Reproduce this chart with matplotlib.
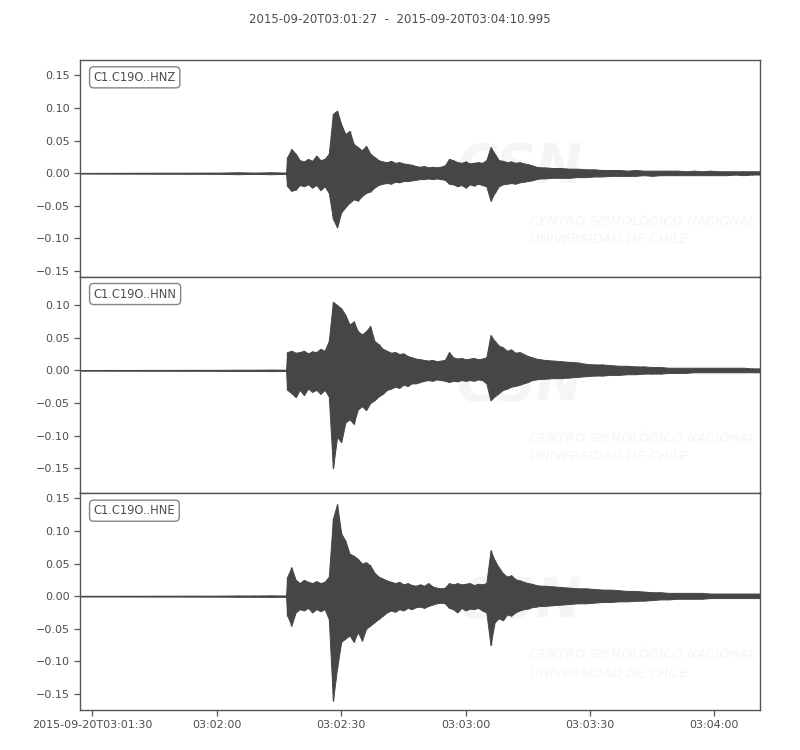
import numpy as np
import matplotlib
matplotlib.use("Agg")
import matplotlib.pyplot as plt
from matplotlib.ticker import MultipleLocator

# ---------------- data ----------------
title = "2015-09-20T03:01:27  -  2015-09-20T03:04:10.995"
channels = ["C1.C19O..HNZ", "C1.C19O..HNN", "C1.C19O..HNE"]

# seconds after 2015-09-20T03:01:27
t_pre = [0, 34, 38, 42, 46, 49.7]
t_sec = list(range(50, 112))          # 1 s envelope samples
t_tail = list(range(112, 166, 2))     # 2 s envelope samples
duration = 163.995

# HNZ envelope
hnz_pre_up = [0.0005, 0.001, 0.0015, 0.001, 0.0015, 0.001]
hnz_pre_lo = [-0.0005, -0.001, -0.0015, -0.001, -0.0015, -0.001]
hnz_up = [0.025, 0.037, 0.030, 0.020, 0.018, 0.022, 0.019, 0.027, 0.020,
          0.022, 0.030, 0.091, 0.096, 0.075, 0.060, 0.065, 0.045, 0.040, 0.035,
          0.042, 0.030, 0.025, 0.020, 0.018, 0.017, 0.019, 0.016, 0.017, 0.015,
          0.014, 0.013, 0.011, 0.010, 0.011, 0.009, 0.010, 0.009, 0.010, 0.012,
          0.022, 0.020, 0.017, 0.016, 0.018, 0.015, 0.016, 0.017, 0.016, 0.020,
          0.040, 0.030, 0.020, 0.019, 0.017, 0.018, 0.016, 0.017, 0.015, 0.014,
          0.012, 0.010, 0.009]
hnz_lo = [-0.020, -0.027, -0.025, -0.018, -0.020, -0.017, -0.022, -0.018, -0.026,
          -0.020, -0.030, -0.070, -0.083, -0.060, -0.052, -0.045, -0.040, -0.042, -0.035,
          -0.030, -0.028, -0.022, -0.018, -0.016, -0.015, -0.016, -0.013, -0.014, -0.012,
          -0.012, -0.011, -0.010, -0.009, -0.009, -0.008, -0.009, -0.008, -0.009, -0.010,
          -0.016, -0.017, -0.020, -0.018, -0.022, -0.017, -0.019, -0.016, -0.018, -0.020,
          -0.042, -0.030, -0.020, -0.017, -0.016, -0.015, -0.016, -0.014, -0.013, -0.012,
          -0.011, -0.009, -0.008]
hnz_tail_up = [0.009, 0.008, 0.008, 0.007, 0.007, 0.006, 0.006, 0.005, 0.005,
               0.005, 0.004, 0.005, 0.004, 0.004, 0.004, 0.004, 0.004, 0.003,
               0.004, 0.003, 0.004, 0.003, 0.003, 0.003, 0.003, 0.003, 0.003]
hnz_tail_lo = [-0.008, -0.007, -0.007, -0.007, -0.006, -0.006, -0.005, -0.005, -0.004,
               -0.004, -0.004, -0.004, -0.003, -0.004, -0.003, -0.003, -0.003, -0.003,
               -0.003, -0.003, -0.003, -0.003, -0.003, -0.002, -0.003, -0.002, -0.002]

# HNN envelope
hnn_pre_up = [0.0005, 0.0008, 0.001, 0.001, 0.0012, 0.001]
hnn_pre_lo = [-0.0005, -0.0008, -0.001, -0.001, -0.0012, -0.001]
hnn_up = [0.028, 0.030, 0.027, 0.028, 0.030, 0.026, 0.029, 0.028, 0.033,
          0.030, 0.045, 0.105, 0.100, 0.095, 0.085, 0.070, 0.075, 0.060, 0.055,
          0.060, 0.068, 0.045, 0.040, 0.033, 0.030, 0.027, 0.028, 0.025, 0.026,
          0.022, 0.020, 0.018, 0.017, 0.016, 0.015, 0.016, 0.014, 0.015, 0.016,
          0.028, 0.020, 0.018, 0.019, 0.017, 0.018, 0.019, 0.017, 0.018, 0.020,
          0.054, 0.045, 0.038, 0.035, 0.030, 0.032, 0.027, 0.028, 0.025, 0.022,
          0.020, 0.018, 0.017]
hnn_lo = [-0.030, -0.035, -0.041, -0.030, -0.038, -0.028, -0.033, -0.030, -0.036,
          -0.030, -0.040, -0.150, -0.102, -0.110, -0.080, -0.075, -0.082, -0.060, -0.055,
          -0.061, -0.050, -0.046, -0.040, -0.036, -0.030, -0.028, -0.025, -0.027, -0.022,
          -0.024, -0.020, -0.020, -0.018, -0.016, -0.015, -0.016, -0.014, -0.015, -0.016,
          -0.018, -0.016, -0.017, -0.015, -0.016, -0.015, -0.016, -0.014, -0.015, -0.020,
          -0.046, -0.040, -0.035, -0.030, -0.028, -0.025, -0.024, -0.022, -0.020, -0.018,
          -0.015, -0.014, -0.013]
hnn_tail_up = [0.016, 0.015, 0.014, 0.013, 0.012, 0.010, 0.009, 0.009, 0.008,
               0.007, 0.007, 0.006, 0.006, 0.005, 0.005, 0.004, 0.004, 0.004,
               0.004, 0.004, 0.004, 0.004, 0.004, 0.004, 0.004, 0.003, 0.003]
hnn_tail_lo = [-0.013, -0.012, -0.012, -0.011, -0.010, -0.009, -0.008, -0.008, -0.007,
               -0.007, -0.006, -0.006, -0.005, -0.005, -0.005, -0.004, -0.004, -0.004,
               -0.003, -0.003, -0.003, -0.003, -0.003, -0.003, -0.003, -0.003, -0.003]

# HNE envelope
hne_pre_up = [0.0005, 0.0008, 0.001, 0.001, 0.0012, 0.001]
hne_pre_lo = [-0.0005, -0.0008, -0.001, -0.001, -0.0012, -0.001]
hne_up = [0.030, 0.044, 0.025, 0.020, 0.025, 0.022, 0.020, 0.023, 0.020,
          0.022, 0.030, 0.119, 0.141, 0.096, 0.085, 0.065, 0.062, 0.057, 0.050,
          0.052, 0.047, 0.036, 0.030, 0.027, 0.024, 0.022, 0.020, 0.022, 0.018,
          0.020, 0.017, 0.016, 0.018, 0.016, 0.020, 0.015, 0.013, 0.012, 0.013,
          0.020, 0.018, 0.020, 0.018, 0.019, 0.020, 0.017, 0.019, 0.018, 0.020,
          0.070, 0.055, 0.044, 0.035, 0.030, 0.032, 0.026, 0.024, 0.022, 0.020,
          0.019, 0.017, 0.016]
hne_lo = [-0.030, -0.045, -0.025, -0.020, -0.022, -0.018, -0.025, -0.020, -0.023,
          -0.020, -0.035, -0.160, -0.110, -0.070, -0.065, -0.060, -0.070, -0.055, -0.068,
          -0.050, -0.045, -0.040, -0.035, -0.030, -0.025, -0.022, -0.024, -0.020, -0.022,
          -0.018, -0.020, -0.017, -0.016, -0.018, -0.015, -0.013, -0.011, -0.010, -0.011,
          -0.018, -0.020, -0.025, -0.018, -0.022, -0.019, -0.020, -0.018, -0.022, -0.025,
          -0.075, -0.040, -0.034, -0.037, -0.028, -0.030, -0.025, -0.022, -0.020, -0.019,
          -0.017, -0.016, -0.015]
hne_tail_up = [0.016, 0.015, 0.014, 0.013, 0.012, 0.012, 0.011, 0.010, 0.010,
               0.009, 0.008, 0.008, 0.007, 0.006, 0.006, 0.005, 0.005, 0.005,
               0.005, 0.005, 0.004, 0.004, 0.004, 0.004, 0.004, 0.004, 0.004]
hne_tail_lo = [-0.015, -0.014, -0.013, -0.012, -0.011, -0.011, -0.010, -0.009, -0.009,
               -0.008, -0.008, -0.007, -0.007, -0.006, -0.005, -0.005, -0.004, -0.004,
               -0.004, -0.004, -0.003, -0.003, -0.003, -0.003, -0.003, -0.003, -0.003]

ylims = [(-0.1585, 0.1735), (-0.1885, 0.1435), (-0.1745, 0.1575)]

xtick_pos = [3, 33, 63, 93, 123, 153]
xtick_labels = ["2015-09-20T03:01:30", "03:02:00", "03:02:30",
                "03:03:00", "03:03:30", "03:04:00"]

# ---------------- drawing ----------------
wave_c = "#464646"
txt_c = "#4d4d4d"
spine_c = "#555555"
wm_c = "#f5f5f5"

fig = plt.figure(figsize=(8, 7.5), dpi=100)
fig.subplots_adjust(left=0.1, right=0.95, top=0.92, bottom=0.0533, hspace=0)
axes = fig.subplots(3, 1, sharex=True)

times = np.array(t_pre + t_sec + t_tail, dtype=float)
series = [
    (hnz_pre_up + hnz_up + hnz_tail_up, hnz_pre_lo + hnz_lo + hnz_tail_lo),
    (hnn_pre_up + hnn_up + hnn_tail_up, hnn_pre_lo + hnn_lo + hnn_tail_lo),
    (hne_pre_up + hne_up + hne_tail_up, hne_pre_lo + hne_lo + hne_tail_lo),
]

for i, ax in enumerate(axes):
    up = np.array(series[i][0])
    lo = np.array(series[i][1])
    # faint watermark
    ax.text(0.555, 0.50, "CSN", transform=ax.transAxes, fontsize=40,
            fontweight="bold", style="italic", color=wm_c, ha="left",
            va="center", zorder=0, clip_on=True)
    ax.text(0.662, 0.255, "CENTRO SISMOLÓGICO NACIONAL", transform=ax.transAxes,
            fontsize=9.5, style="italic", color=wm_c,
            ha="left", va="center", zorder=0, clip_on=True)
    ax.text(0.662, 0.17, "UNIVERSIDAD DE CHILE", transform=ax.transAxes,
            fontsize=9.5, style="italic", color=wm_c,
            ha="left", va="center", zorder=0, clip_on=True)

    ax.fill_between(times, lo, up, color=wave_c, linewidth=0.7,
                    edgecolor=wave_c, zorder=2)
    ax.vlines(times, lo, up, color=wave_c, linewidth=1.0, zorder=2)
    ax.set_xlim(0, duration)
    ax.set_ylim(*ylims[i])
    ax.yaxis.set_major_locator(MultipleLocator(0.05))
    ax.tick_params(axis="both", direction="out", length=4, width=0.9,
                   colors=spine_c, labelcolor=txt_c, labelsize=8)
    for s in ax.spines.values():
        s.set_color(spine_c)
        s.set_linewidth(1.0)
    ax.text(0.02, 0.95, channels[i], transform=ax.transAxes, fontsize=8.3,
            color=txt_c, ha="left", va="top", zorder=5,
            bbox=dict(boxstyle="round,pad=0.35", fc="white", ec="#777777",
                      lw=1.0, alpha=0.9))
    if i < 2:
        ax.tick_params(axis="x", bottom=False, labelbottom=False)

axes[-1].set_xticks(xtick_pos)
axes[-1].set_xticklabels(xtick_labels)

fig.suptitle(title, y=0.983, fontsize=8.5, color=txt_c, va="top")

fig.savefig("out.png", dpi=100)
